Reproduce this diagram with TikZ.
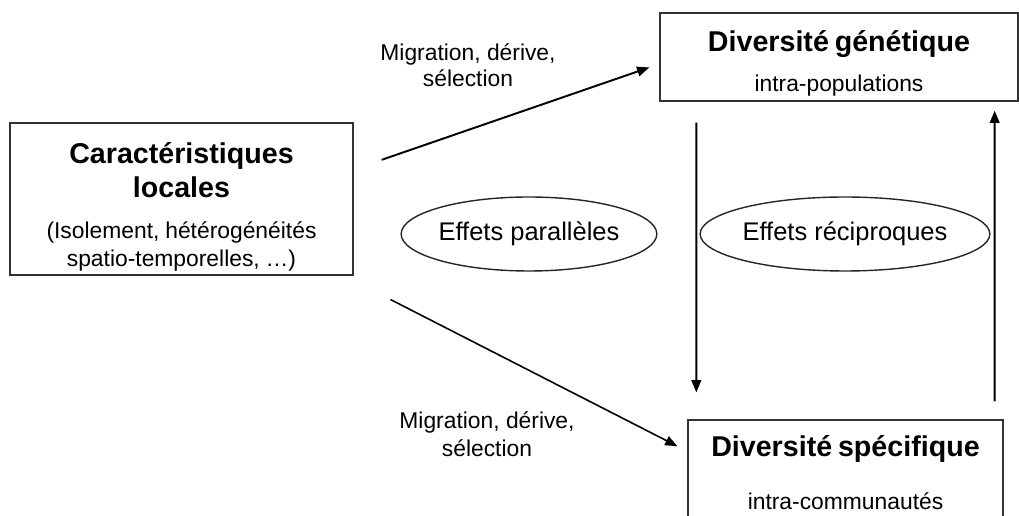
\documentclass[tikz,border=0pt]{standalone}
\usepackage{fontspec}
\setmainfont{Liberation Sans}
\usepackage{tikz}
\usetikzlibrary{shapes}
\usetikzlibrary{arrows.meta}
\usetikzlibrary{calc}

\newcommand{\titre}{\fontsize{16.3}{19.5}\selectfont\bfseries}
\newcommand{\corps}{\fontsize{13}{15.5}\selectfont\mdseries}

\begin{document}
\begin{tikzpicture}[x=0.02cm, y=-0.02cm,
  boite/.style={draw=black!80, line width=0.8pt, align=center, inner sep=0pt},
  effet/.style={draw=black!85, ellipse, line width=0.8pt, inner sep=0pt,
    font=\fontsize{14.5}{17}\selectfont},
  lien/.style={line width=1.1pt, -{Triangle[length=7pt,width=5.5pt]}},
  etiq/.style={align=center, font=\fontsize{13}{14.5}\selectfont}]
\path[use as bounding box, clip] (0,0) rectangle (1019,516);

\node[boite, 
   text width=6.4cm, 
   minimum width=6.86cm, 
   minimum height=3.04cm] (A) at (181.5,199) 
  {\titre\rule{0pt}{20.5pt}Caractéristiques\\locales\par
   \vspace{8pt}
   \corps (Isolement, hétérogénéités\\spatio-temporelles, …)\par};
\node[boite, 
   text width=6.8cm, 
   minimum width=7.16cm, 
   minimum height=1.76cm] (B) at (839,57) 
  {\titre\rule{0pt}{19pt}Diversité génétique\par
   \vspace{7.5pt}
   \corps intra-populations\par};
\node[boite, 
   text width=6cm, 
   minimum width=6.3cm, 
   minimum height=2.1cm] (C) at (845.5,472.5) 
  {\titre Diversité spécifique\par
   \vspace{15pt}
   \corps intra-communautés\par};

\node[effet, minimum width=4.84cm, minimum height=1.48cm] (par) at (529,234) {Effets parallèles};
\node[effet, minimum width=4.88cm, minimum height=1.48cm] (rec) at (845,234) {Effets réciproques};

\node[etiq] (mig1) at (468,65) {Migration, dérive,\\sélection};
\node[etiq] (mig2) at (487,434) {Migration, dérive,\\[1.5pt]sélection};

\draw[lien, shorten <=16.8pt, shorten >=6pt] ($(A.east)+(0,-29.5)$) -- ($(B.west)+(0,7)$);
\draw[lien, line width=0.9pt, shorten <=23.6pt, shorten >=6.3pt] ($(A.south east)+(0,5)$) -- ($(C.north west)+(0,32)$);
\draw[lien, shorten <=11.9pt, shorten >=15.3pt] ($(B.south west)+(37,0)$) -- ($(C.north west)+(9,0)$);
\draw[lien, shorten <=10.2pt, shorten >=5.1pt] ($(C.north east)+(-9,0)$) -- ($(B.south east)+(-24,0)$);
\end{tikzpicture}
\end{document}
